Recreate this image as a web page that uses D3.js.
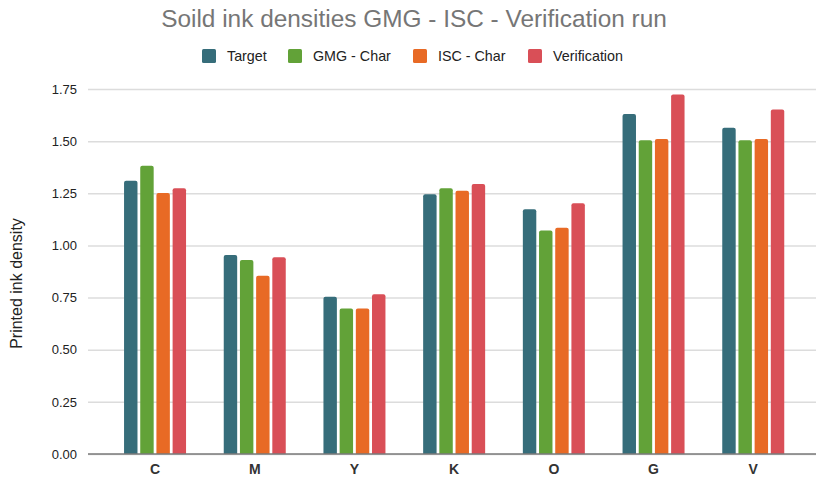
<!DOCTYPE html>
<html>
<head>
<meta charset="utf-8">
<script src="https://cdn.jsdelivr.net/npm/d3@7/dist/d3.min.js"></script>
<style>
  html, body { margin: 0; padding: 0; background: #fff; }
  svg { display: block; font-family: "Liberation Sans", Arial, Helvetica, sans-serif; }
</style>
</head>
<body>
<svg id="chart" width="816" height="478"></svg>
<script>
// Solid ink densities per colour channel
const categories = ["C", "M", "Y", "K", "O", "G", "V"];
const seriesNames = ["Target", "GMG - Char", "ISC - Char", "Verification"];
const seriesColors = ["#366d7a", "#62a238", "#e86a25", "#d94f57"];
const target       = [1.31, 0.954, 0.754, 1.245, 1.173, 1.630, 1.564];
const gmgChar      = [1.382, 0.930, 0.698, 1.274, 1.071, 1.504, 1.504];
const iscChar      = [1.251, 0.855, 0.698, 1.262, 1.085, 1.510, 1.510];
const verification = [1.274, 0.943, 0.766, 1.294, 1.202, 1.724, 1.652];
const yTicks = [0, 0.25, 0.5, 0.75, 1.0, 1.25, 1.5, 1.75];

const series = [target, gmgChar, iscChar, verification];

const svg = d3.select("#chart");
const W = 816, H = 478;
const plot = { left: 88, right: 816, top: 89, bottom: 454 };

const y = d3.scaleLinear().domain([0, 1.75]).range([plot.bottom, plot.top]);
const x = d3.scaleBand().domain(categories).range([105.2, 803.1]).padding(0);
const groupW = 62;
const xi = d3.scaleBand().domain(d3.range(series.length))
  .range([-groupW / 2, groupW / 2]).paddingInner(0.17).paddingOuter(0);

// Title
svg.append("text")
  .attr("x", 414).attr("y", 27)
  .attr("text-anchor", "middle")
  .attr("font-size", 24.4)
  .attr("fill", "#767676")
  .text("Soild ink densities GMG - ISC - Verification run");

// Legend
const legendItems = [
  { sx: 202, tx: 227 },
  { sx: 288, tx: 313 },
  { sx: 413, tx: 438 },
  { sx: 528, tx: 553 }
];
const legend = svg.append("g");
seriesNames.forEach((name, i) => {
  legend.append("rect")
    .attr("x", legendItems[i].sx).attr("y", 49)
    .attr("width", 14).attr("height", 14)
    .attr("rx", 1.5)
    .attr("fill", seriesColors[i]);
  legend.append("text")
    .attr("x", legendItems[i].tx).attr("y", 61)
    .attr("font-size", 14.3)
    .attr("fill", "#222")
    .text(name);
});

// Gridlines and y axis labels
const yAxis = d3.axisLeft(y).tickValues(yTicks)
  .tickSize(-(plot.right - plot.left))
  .tickPadding(11)
  .tickFormat(d3.format(".2f"));
const gy = svg.append("g")
  .attr("transform", `translate(${plot.left},0)`)
  .call(yAxis);
gy.select(".domain").remove();
gy.selectAll(".tick line")
  .attr("stroke", "#dcdcdc")
  .attr("stroke-width", 1.5);
gy.selectAll(".tick text")
  .attr("font-size", 13)
  .attr("font-family", "Liberation Sans, Arial, sans-serif")
  .attr("fill", "#222");

// Y axis title
svg.append("text")
  .attr("transform", `translate(22,${(plot.top + plot.bottom) / 2 + 12}) rotate(-90)`)
  .attr("text-anchor", "middle")
  .attr("font-size", 16)
  .attr("fill", "#222")
  .text("Printed ink density");

// Bars with slightly rounded tops
function barPath(x0, w, yTop, yBase, r) {
  r = Math.min(r, w / 2, (yBase - yTop));
  return `M${x0},${yBase}V${yTop + r}Q${x0},${yTop} ${x0 + r},${yTop}` +
         `H${x0 + w - r}Q${x0 + w},${yTop} ${x0 + w},${yTop + r}V${yBase}Z`;
}

const groups = svg.append("g").selectAll("g")
  .data(categories)
  .join("g")
  .attr("transform", d => `translate(${x(d) + x.bandwidth() / 2},0)`);

groups.selectAll("path")
  .data((d, ci) => series.map((s, si) => ({ si, v: s[ci] })))
  .join("path")
  .attr("d", d => barPath(xi(d.si), xi.bandwidth(), y(d.v), y(0), 2))
  .attr("fill", d => seriesColors[d.si]);

// Baseline
svg.append("line")
  .attr("x1", plot.left).attr("x2", plot.right)
  .attr("y1", y(0)).attr("y2", y(0))
  .attr("stroke", "#7a7a7a")
  .attr("stroke-width", 1.5);

// X axis labels
const xAxis = d3.axisBottom(x).tickSize(0).tickPadding(10);
const gx = svg.append("g")
  .attr("transform", `translate(0,${plot.bottom})`)
  .call(xAxis);
gx.select(".domain").remove();
gx.selectAll(".tick text")
  .attr("font-size", 14)
  .attr("font-family", "Liberation Sans, Arial, sans-serif")
  .attr("font-weight", "bold")
  .attr("fill", "#333");
</script>
</body>
</html>
